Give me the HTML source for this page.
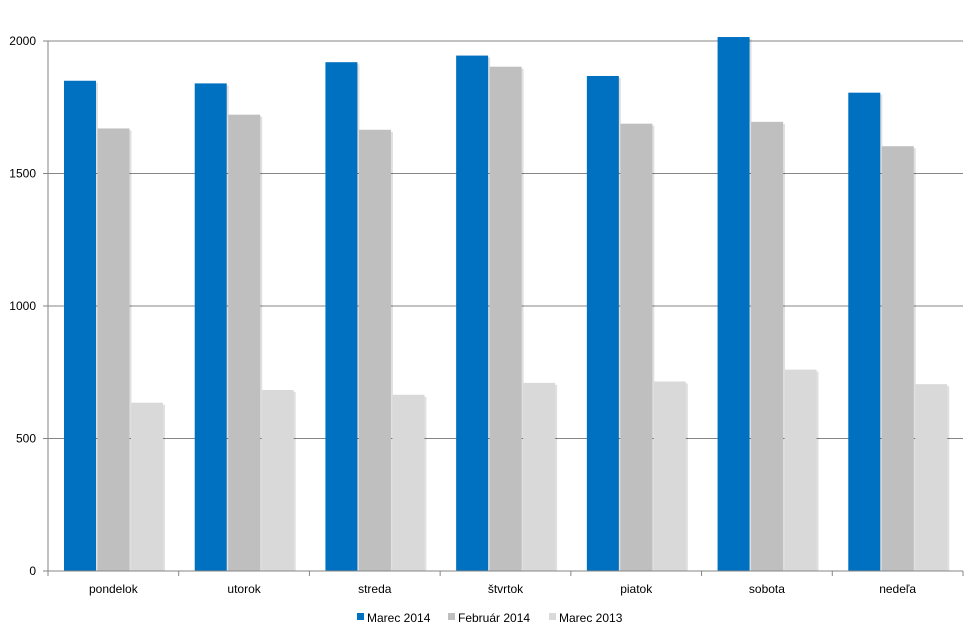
<!DOCTYPE html>
<html><head><meta charset="utf-8"><style>
body{margin:0;background:#fff;font-family:"Liberation Sans",sans-serif;}
svg text{font-family:"Liberation Sans",sans-serif;font-size:12px;fill:#000;}
</style></head><body>
<svg id="chart" width="976" height="637" xmlns="http://www.w3.org/2000/svg">
<g id="grid"></g>
<g id="bars"></g>
<g id="axes"></g>
<g id="legend"></g>
</svg>
<script>
const categories=["pondelok","utorok","streda","štvrtok","piatok","sobota","nedeľa"];
const marec2014=[1850,1840,1920,1945,1868,2015,1805];
const februar2014=[1670,1722,1665,1903,1688,1695,1603];
const marec2013=[635,683,665,710,715,760,705];
const yTicks=[0,500,1000,1500,2000];
const seriesNames=["Marec 2014","Február 2014","Marec 2013"];
const colors=["#0070c0","#bfbfbf","#d9d9d9"];
const NS="http://www.w3.org/2000/svg";
const x0=48,x1=963,y0=571,yTop=41;
const y=v=>y0-(v/2000)*(y0-yTop);
const bw=(x1-x0)/categories.length;
function mk(t,a,p){const e=document.createElementNS(NS,t);for(const k in a)e.setAttribute(k,a[k]);p.appendChild(e);return e;}
const grid=document.getElementById('grid'),bars=document.getElementById('bars'),axes=document.getElementById('axes'),legend=document.getElementById('legend');
yTicks.forEach(v=>{
 if(v>0){const l=mk('line',{x1:x0,x2:x1,y1:y(v),y2:y(v),stroke:'#868686','stroke-width':1},grid);
 
 }
 const t=mk('text',{x:x0-12,y:y(v)+4,'text-anchor':'end'},axes);t.textContent=v;
 
 
 mk('line',{x1:x0-5,x2:x0,y1:y(v),y2:y(v),stroke:'#868686'},axes);
});
mk('line',{x1:x0,x2:x0,y1:yTop,y2:y0,stroke:'#868686'},axes);
mk('line',{x1:x0,x2:x1,y1:y0,y2:y0,stroke:'#868686'},axes);
const series=[marec2014,februar2014,marec2013];
categories.forEach((c,i)=>{
 const cx=x0+bw*i;
 mk('line',{x1:cx,x2:cx,y1:y0,y2:y0+5,stroke:'#868686'},axes);
 series.forEach((s,j)=>{
  const bx=cx+16+j*33.5;
  mk('rect',{x:bx+2,y:y(s[i])+2,width:32,height:y0-y(s[i])-2,fill:'#000','fill-opacity':0.12},bars);
  const r=mk('rect',{x:bx,y:y(s[i]),width:32,height:y0-y(s[i]),fill:colors[j]},bars);
  
  
 });
 const t=mk('text',{x:cx+bw/2,y:y0+22,'text-anchor':'middle'},axes);t.textContent=c;
 
 
});
mk('line',{x1:x1,x2:x1,y1:y0,y2:y0+5,stroke:'#868686'},axes);
const lx=[357,448,549];
seriesNames.forEach((n,j)=>{
 mk('rect',{x:lx[j],y:613,width:7,height:7,fill:colors[j]},legend);
 const t=mk('text',{x:lx[j]+10,y:622},legend);t.textContent=n;
 
 
});
</script>
</body></html>
